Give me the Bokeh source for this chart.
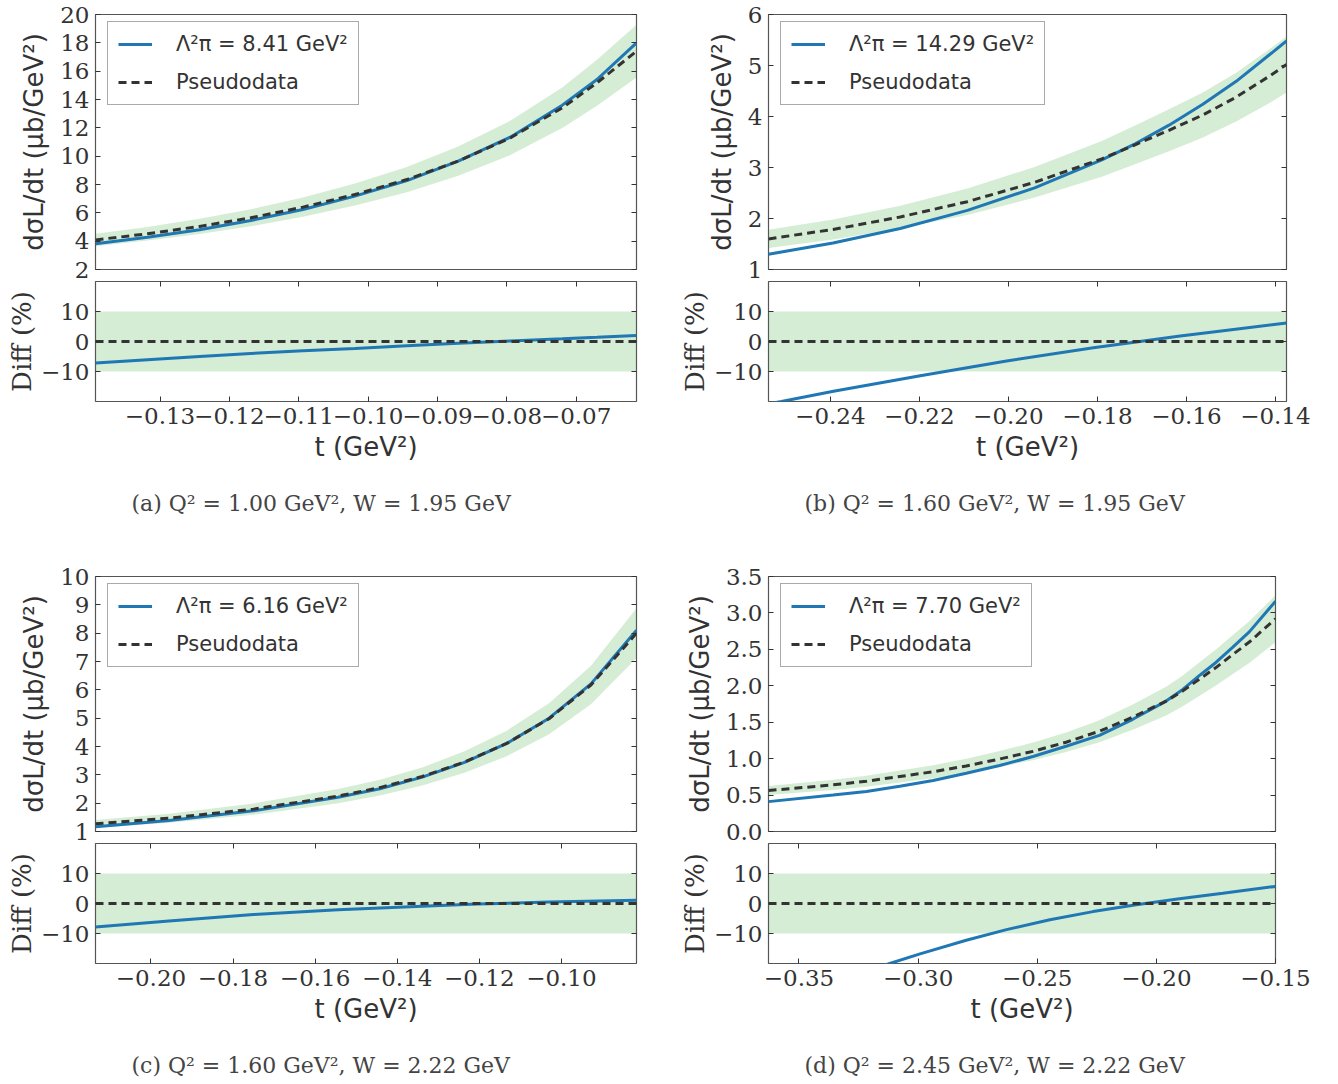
from bokeh.plotting import figure
from bokeh.models import (Range1d, LinearAxis, FixedTicker, BoxAnnotation, Span, Title,
                          Legend, LegendItem, CustomJSTickFormatter)
from bokeh.layouts import column, row
from bokeh.embed import file_html
from bokeh.resources import INLINE

# ---------------- data ----------------
# Panel (a)
t_a = [-0.1393, -0.1318, -0.1243, -0.1169, -0.1094, -0.1019, -0.0944, -0.0870, -0.0795, -0.0720, -0.0670, -0.0613]
pseudo_a = [4.09, 4.52, 5.04, 5.65, 6.40, 7.29, 8.35, 9.65, 11.29, 13.41, 15.18, 17.41]
model_a = [3.81, 4.28, 4.80, 5.46, 6.24, 7.18, 8.28, 9.65, 11.34, 13.60, 15.41, 18.00]
band_hi_a = [4.53, 5.00, 5.58, 6.25, 7.08, 8.07, 9.24, 10.68, 12.50, 14.85, 16.80, 19.27]
band_lo_a = [3.65, 4.04, 4.50, 5.05, 5.72, 6.51, 7.46, 8.62, 10.08, 11.98, 13.56, 15.55]
diff_t_a = [-0.1393, -0.1318, -0.1243, -0.1169, -0.1094, -0.1019, -0.0944, -0.0870, -0.0795, -0.0720, -0.0670, -0.0613]
diff_a = [-7.2, -6.1, -5.0, -4.0, -3.1, -2.3, -1.4, -0.6, 0.2, 0.9, 1.4, 2.0]

# Panel (b)
t_b = [-0.2539, -0.2394, -0.2243, -0.2092, -0.1941, -0.1790, -0.1714, -0.1639, -0.1563, -0.1488, -0.1412, -0.1375]
pseudo_b = [1.60, 1.785, 2.03, 2.33, 2.71, 3.17, 3.45, 3.73, 4.03, 4.38, 4.80, 5.02]
model_b = [1.30, 1.52, 1.805, 2.16, 2.60, 3.15, 3.47, 3.83, 4.24, 4.69, 5.22, 5.48]
band_hi_b = [1.78, 1.98, 2.25, 2.59, 3.01, 3.52, 3.83, 4.14, 4.47, 4.86, 5.33, 5.57]
band_lo_b = [1.42, 1.59, 1.81, 2.07, 2.41, 2.82, 3.07, 3.32, 3.59, 3.90, 4.27, 4.47]
diff_t_b = [-0.2539, -0.2510, -0.2393, -0.2198, -0.2004, -0.1809, -0.1721, -0.1614, -0.1517, -0.1375]
diff_b = [-20.8, -20.0, -16.6, -11.4, -6.5, -2.1, -0.3, 1.8, 3.6, 6.2]

# Panel (c)
t_c = [-0.2135, -0.1956, -0.1750, -0.1544, -0.1442, -0.1339, -0.1236, -0.1133, -0.1030, -0.0928, -0.0817]
pseudo_c = [1.27, 1.47, 1.79, 2.25, 2.55, 2.94, 3.45, 4.11, 4.98, 6.17, 8.00]
model_c = [1.17, 1.385, 1.73, 2.21, 2.51, 2.92, 3.44, 4.11, 5.00, 6.21, 8.10]
band_hi_c = [1.41, 1.63, 1.99, 2.50, 2.83, 3.26, 3.83, 4.56, 5.53, 6.85, 8.88]
band_lo_c = [1.13, 1.31, 1.59, 2.00, 2.27, 2.62, 3.07, 3.66, 4.43, 5.49, 7.12]
diff_t_c = [-0.2135, -0.1956, -0.1750, -0.1544, -0.1339, -0.1205, -0.1030, -0.0817]
diff_c = [-7.8, -5.8, -3.7, -2.1, -0.9, -0.2, 0.5, 1.1]

# Panel (d)
t_d = [-0.3628, -0.3357, -0.3217, -0.3077, -0.2937, -0.2798, -0.2658, -0.2518, -0.2379, -0.2239,
       -0.2099, -0.1959, -0.1889, -0.1820, -0.1750, -0.1679, -0.1610, -0.1500]
pseudo_d = [0.562, 0.64, 0.69, 0.755, 0.82, 0.90, 0.995, 1.10, 1.225, 1.376,
            1.57, 1.79, 1.93, 2.09, 2.25, 2.43, 2.60, 2.92]
model_d = [0.41, 0.50, 0.55, 0.62, 0.70, 0.80, 0.905, 1.03, 1.17, 1.32,
           1.54, 1.79, 1.95, 2.14, 2.32, 2.53, 2.74, 3.16]
band_hi_d = [0.624, 0.71, 0.766, 0.838, 0.91, 1.00, 1.104, 1.221, 1.36, 1.527,
             1.743, 1.987, 2.142, 2.32, 2.498, 2.697, 2.886, 3.241]
band_lo_d = [0.50, 0.57, 0.614, 0.672, 0.73, 0.801, 0.886, 0.979, 1.09, 1.225,
             1.397, 1.593, 1.718, 1.86, 2.003, 2.163, 2.314, 2.599]
diff_t_d = [-0.3628, -0.3357, -0.3119, -0.2992, -0.2798, -0.2629, -0.2447, -0.2266, -0.2084, -0.1903, -0.1721, -0.1500]
diff_d = [-34.0, -26.5, -20.0, -16.8, -12.25, -8.7, -5.4, -2.7, -0.4, 1.6, 3.4, 5.7]

# axis ranges, ticks and tick labels
xrange_a = (-0.1393, -0.0613)
xrange_b = (-0.2539, -0.1375)
xrange_c = (-0.2135, -0.0817)
xrange_d = (-0.3628, -0.1500)
xticks_a = [-0.13, -0.12, -0.11, -0.10, -0.09, -0.08, -0.07]
xlabels_a = ["−0.13", "−0.12", "−0.11", "−0.10", "−0.09", "−0.08", "−0.07"]
xticks_b = [-0.24, -0.22, -0.20, -0.18, -0.16, -0.14]
xlabels_b = ["−0.24", "−0.22", "−0.20", "−0.18", "−0.16", "−0.14"]
xticks_c = [-0.20, -0.18, -0.16, -0.14, -0.12, -0.10]
xlabels_c = ["−0.20", "−0.18", "−0.16", "−0.14", "−0.12", "−0.10"]
xticks_d = [-0.35, -0.30, -0.25, -0.20, -0.15]
xlabels_d = ["−0.35", "−0.30", "−0.25", "−0.20", "−0.15"]

yrange_a = (2, 20)
yticks_a = [2, 4, 6, 8, 10, 12, 14, 16, 18, 20]
ylabels_a = ["2", "4", "6", "8", "10", "12", "14", "16", "18", "20"]
yrange_b = (1, 6)
yticks_b = [1, 2, 3, 4, 5, 6]
ylabels_b = ["1", "2", "3", "4", "5", "6"]
yrange_c = (1, 10)
yticks_c = [1, 2, 3, 4, 5, 6, 7, 8, 9, 10]
ylabels_c = ["1", "2", "3", "4", "5", "6", "7", "8", "9", "10"]
yrange_d = (0, 3.5)
yticks_d = [0.0, 0.5, 1.0, 1.5, 2.0, 2.5, 3.0, 3.5]
ylabels_d = ["0.0", "0.5", "1.0", "1.5", "2.0", "2.5", "3.0", "3.5"]

diff_range = (-20, 20)
diff_ticks = [-10, 0, 10]
diff_labels = ["−10", "0", "10"]
diff_band = [-10, 10]

legend_labels = ["Λ²π = 8.41 GeV²", "Λ²π = 14.29 GeV²", "Λ²π = 6.16 GeV²", "Λ²π = 7.70 GeV²"]
captions = ["(a) Q² = 1.00 GeV², W = 1.95 GeV", "(b) Q² = 1.60 GeV², W = 1.95 GeV",
            "(c) Q² = 1.60 GeV², W = 2.22 GeV", "(d) Q² = 2.45 GeV², W = 2.22 GeV"]
y_title = "dσL/dt (μb/GeV²)"
diff_title = "Diff (%)"
x_title = "t (GeV²)"

# ---------------- styling ----------------
BLUE = "#1f77b4"
DARK = "#333333"
GREEN = "#2ca02c"
TXT = "#333333"
FRAME = "#555555"
DASH = "8 5"


def style_axis(ax, ticks, labels):
    ax.ticker = FixedTicker(ticks=ticks)
    ax.major_label_overrides = dict(zip(ticks, labels))
    ax.major_tick_in = 5
    ax.major_tick_out = 0
    ax.minor_tick_in = 0
    ax.minor_tick_out = 0
    ax.axis_line_color = None
    ax.major_tick_line_color = DARK
    ax.major_label_text_font = "DejaVu Serif"
    ax.major_label_text_font_size = "23px"
    ax.major_label_text_color = TXT
    ax.major_label_standoff = 6


def style_title(ax, text, font, standoff):
    ax.axis_label = text
    ax.axis_label_text_font = font
    ax.axis_label_text_font_size = "26px"
    ax.axis_label_text_font_style = "normal"
    ax.axis_label_text_color = TXT
    ax.axis_label_standoff = standoff


def mirror_axis(ticks):
    ax = LinearAxis(ticker=FixedTicker(ticks=ticks),
                    formatter=CustomJSTickFormatter(code="return ''"))
    ax.major_tick_in = 5
    ax.major_tick_out = 0
    ax.minor_tick_in = 0
    ax.minor_tick_out = 0
    ax.axis_line_color = None
    ax.major_tick_line_color = DARK
    ax.major_label_text_font_size = "0px"
    ax.major_label_standoff = 0
    return ax


def spacer_axis(ticks, size):
    # invisible axis (no line, no tick marks, no labels) that only reserves room above the caption
    ax = LinearAxis(ticker=FixedTicker(ticks=ticks[:1]),
                    formatter=CustomJSTickFormatter(code="return ''"))
    ax.major_tick_in = 0
    ax.major_tick_out = size
    ax.minor_tick_in = 0
    ax.minor_tick_out = 0
    ax.axis_line_color = None
    ax.major_tick_line_color = None
    ax.major_label_text_font_size = "0px"
    ax.major_label_standoff = 0
    return ax


def top_fig(xr, yr, yt, yl, t, lo, hi, model, pseudo, leg, W, L, R):
    H, T, B = 281, 14, 12
    p = figure(width=W, height=H, min_border_left=L, min_border_right=R,
               min_border_top=T, min_border_bottom=B,
               x_range=Range1d(*xr), y_range=Range1d(*yr),
               output_backend="svg", toolbar_location=None)
    p.xaxis.visible = False
    style_axis(p.yaxis[0], yt, yl)
    style_title(p.yaxis[0], y_title, "DejaVu Sans", 8)
    p.add_layout(mirror_axis(yt), "right")
    p.grid.visible = False
    p.outline_line_color = FRAME
    p.outline_line_width = 1.2
    p.varea(x=t, y1=lo, y2=hi, fill_color=GREEN, fill_alpha=0.2)
    rm = p.line(t, model, line_color=BLUE, line_width=3)
    rp = p.line(t, pseudo, line_color=DARK, line_width=3, line_dash=DASH)
    fh = H - T - B
    legend = Legend(items=[LegendItem(label=leg, renderers=[rm]),
                           LegendItem(label="Pseudodata", renderers=[rp])],
                    location=(12, fh - 13 - 78), padding=10, spacing=14, margin=0,
                    glyph_width=34, glyph_height=22, label_height=22, label_standoff=24,
                    label_text_font="DejaVu Sans", label_text_font_size="21px",
                    label_text_color=TXT, border_line_color=FRAME, border_line_width=1,
                    background_fill_color="white", background_fill_alpha=1.0)
    p.add_layout(legend)
    return p


def bot_fig(xr, xt, xl, dt, d, cap, W, L, R, B):
    H, T = 120 + B, 0
    q = figure(width=W, height=H, min_border_left=L, min_border_right=R,
               min_border_top=T, min_border_bottom=B,
               x_range=Range1d(*xr), y_range=Range1d(*diff_range),
               output_backend="svg", toolbar_location=None)
    style_axis(q.xaxis[0], xt, xl)
    style_axis(q.yaxis[0], diff_ticks, diff_labels)
    style_title(q.xaxis[0], x_title, "DejaVu Sans", 5)
    style_title(q.yaxis[0], diff_title, "DejaVu Serif", 1)
    q.add_layout(mirror_axis(xt), "above")
    q.add_layout(mirror_axis(diff_ticks), "right")
    q.grid.visible = False
    q.outline_line_color = FRAME
    q.outline_line_width = 1.2
    q.add_layout(BoxAnnotation(bottom=diff_band[0], top=diff_band[1], fill_color=GREEN,
                               fill_alpha=0.2, line_color=None, level="underlay"))
    q.add_layout(Span(location=0, dimension="width", line_color=DARK, line_width=3,
                      line_dash=DASH))
    q.line(dt, d, line_color=BLUE, line_width=3)
    q.add_layout(spacer_axis(xt, 24), "below")
    q.add_layout(Title(text=cap, align="left", offset=36, standoff=0, vertical_align="bottom",
                       text_font="DejaVu Serif", text_font_size="22px",
                       text_font_style="normal", text_color="#444444"), "below")
    return q


a_top = top_fig(xrange_a, yrange_a, yticks_a, ylabels_a, t_a, band_lo_a, band_hi_a,
                model_a, pseudo_a, legend_labels[0], 660, 95, 24)
a_bot = bot_fig(xrange_a, xticks_a, xlabels_a, diff_t_a, diff_a, captions[0], 660, 95, 24, 161)
b_top = top_fig(xrange_b, yrange_b, yticks_b, ylabels_b, t_b, band_lo_b, band_hi_b,
                model_b, pseudo_b, legend_labels[1], 678, 108, 52)
b_bot = bot_fig(xrange_b, xticks_b, xlabels_b, diff_t_b, diff_b, captions[1], 678, 108, 52, 161)
c_top = top_fig(xrange_c, yrange_c, yticks_c, ylabels_c, t_c, band_lo_c, band_hi_c,
                model_c, pseudo_c, legend_labels[2], 660, 95, 24)
c_bot = bot_fig(xrange_c, xticks_c, xlabels_c, diff_t_c, diff_c, captions[2], 660, 95, 24, 121)
d_top = top_fig(xrange_d, yrange_d, yticks_d, ylabels_d, t_d, band_lo_d, band_hi_d,
                model_d, pseudo_d, legend_labels[3], 678, 108, 63)
d_bot = bot_fig(xrange_d, xticks_d, xlabels_d, diff_t_d, diff_d, captions[3], 678, 108, 63, 121)

layout = column(row(a_top, b_top), row(a_bot, b_bot), row(c_top, d_top), row(c_bot, d_bot))

with open("out.html", "w") as f:
    f.write(file_html(layout, INLINE))
